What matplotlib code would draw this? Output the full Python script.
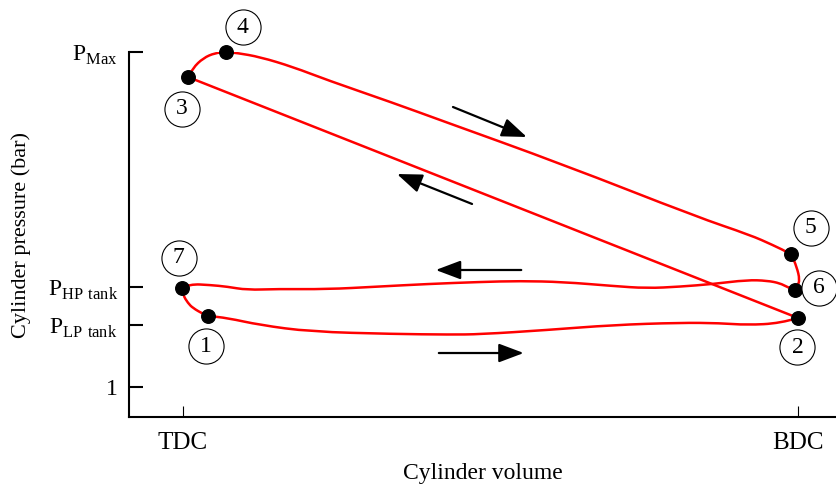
import numpy as np
import matplotlib
matplotlib.use("Agg")
import matplotlib.pyplot as plt
from matplotlib.path import Path
from matplotlib.patches import PathPatch

plt.rcParams['font.family'] = ['Liberation Serif', 'DejaVu Serif']
plt.rcParams['mathtext.fontset'] = 'custom'
plt.rcParams['mathtext.rm'] = 'Liberation Serif'

# ------------------------------------------------------------
# DATA (volume: TDC = 0, BDC = 1; pressure in arbitrary units)
# ------------------------------------------------------------
P_LP = 2.0
P_HP = 2.613
P_MAX = 6.403

# 3 -> 4 -> 5 -> 6 : combustion + expansion + blowdown
EXP_V = [0.008, 0.016, 0.033, 0.052, 0.070, 0.088, 0.125, 0.179, 0.234,
         0.342, 0.418, 0.618, 0.836, 0.922, 0.959, 0.989, 0.998, 1.003,
         0.999, 0.995]
EXP_P = [6.000, 6.145, 6.306, 6.387, 6.403, 6.387, 6.323, 6.161, 5.952,
         5.581, 5.306, 4.590, 3.742, 3.452, 3.290, 3.145, 2.935, 2.726,
         2.630, 2.565]

# 6 -> 7 : exhaust to HP tank
EXH_V = [0.995, 0.982, 0.971, 0.950, 0.917, 0.862, 0.808, 0.754, 0.699,
         0.618, 0.548, 0.483, 0.397, 0.315, 0.234, 0.153, 0.104, 0.072,
         0.044, 0.011, -0.002]
EXH_P = [2.565, 2.613, 2.673, 2.715, 2.726, 2.661, 2.618, 2.592, 2.629,
         2.694, 2.710, 2.694, 2.661, 2.618, 2.576, 2.581, 2.565, 2.618,
         2.645, 2.661, 2.597]

# 7 -> 1 -> 2 : re-expansion + intake from LP tank
INT_V = [-0.002, 0.000, 0.008, 0.016, 0.033, 0.041, 0.072, 0.125, 0.207,
         0.342, 0.434, 0.483, 0.592, 0.699, 0.808, 0.873, 0.917, 0.971,
         1.000]
INT_P = [2.597, 2.484, 2.355, 2.274, 2.177, 2.145, 2.113, 2.000, 1.892,
         1.855, 1.845, 1.850, 1.919, 2.000, 2.037, 2.030, 2.000, 2.027,
         2.113]

# state points 1..7
STATE_V = [0.041, 1.000, 0.008, 0.070, 0.989, 0.995, -0.002]
STATE_P = [2.145, 2.113, 6.000, 6.403, 3.145, 2.565, 2.597]
STATE_NAMES = ['1', '2', '3', '4', '5', '6', '7']

# ------------------------------------------------------------
# LAYOUT
# ------------------------------------------------------------
LABEL_V = [0.037, 0.999, -0.002, 0.097, 1.021, 1.034, -0.007]
LABEL_P = [1.661, 1.645, 5.484, 6.800, 3.565, 2.597, 3.081]

ARROWS = [  # (v_start, p_start, v_end, p_end)
    (0.439, 5.516, 0.559, 5.032),
    (0.470, 3.952, 0.348, 4.435),
    (0.550, 2.887, 0.411, 2.887),
    (0.416, 1.548, 0.554, 1.548),
]

RED = '#ff0000'


def smooth_line(ax, v, p, **kw):
    # quadratic bezier chain: traced points act as control points
    pts = np.column_stack([v, p])
    verts = [pts[0]]
    codes = [Path.MOVETO]
    for i in range(1, len(pts) - 1):
        end = pts[i + 1] if i == len(pts) - 2 else (pts[i] + pts[i + 1]) / 2
        verts += [pts[i], end]
        codes += [Path.CURVE3, Path.CURVE3]
    patch = PathPatch(Path(verts, codes), fill=False, **kw)
    ax.add_patch(patch)


fig = plt.figure(figsize=(8.36, 4.86), dpi=100)
ax = fig.add_axes([129 / 836, 69 / 486, 707 / 836, 365 / 486])

style = dict(edgecolor=RED, lw=1.8, capstyle='round', joinstyle='round',
             zorder=2)
smooth_line(ax, EXP_V, EXP_P, **style)
smooth_line(ax, EXH_V, EXH_P, **style)
smooth_line(ax, INT_V, INT_P, **style)
# 2 -> 3 : compression
ax.plot([STATE_V[1], STATE_V[2]], [STATE_P[1], STATE_P[2]], color=RED,
        lw=1.8, solid_capstyle='round', zorder=2)

ax.scatter(STATE_V, STATE_P, s=95, color='black', zorder=3, clip_on=False)

ax.scatter(LABEL_V, LABEL_P, s=640, facecolor='white', edgecolor='black',
           linewidth=0.8, zorder=4, clip_on=False)
for v, p, name in zip(LABEL_V, LABEL_P, STATE_NAMES):
    ax.text(v, p, name, ha='center', va='center', fontsize=17, zorder=5,
            clip_on=False)

for v0, p0, v1, p1 in ARROWS:
    ax.annotate('', xy=(v1, p1), xytext=(v0, p0),
                arrowprops=dict(arrowstyle='-|>,head_length=0.85,head_width=0.32',
                                color='black', lw=1.6, mutation_scale=18,
                                shrinkA=0, shrinkB=0))

ax.set_xlim(-0.0878, 1.0618)
ax.set_ylim(0.516, P_MAX)

ax.set_xticks([0, 1])
ax.set_xticklabels(['TDC', 'BDC'])
ax.set_yticks([1, P_LP, P_HP, P_MAX])
ax.set_yticklabels(['1', r'P$_{\mathregular{LP\ tank}}$',
                    r'P$_{\mathregular{HP\ tank}}$', r'P$_{\mathregular{Max}}$'])

ax.tick_params(axis='y', direction='in', length=10, width=1.5, pad=8,
               labelsize=17)
ax.tick_params(axis='x', direction='in', length=8, width=0.8, pad=11,
               labelsize=18)

for side in ['top', 'right']:
    ax.spines[side].set_visible(False)
for side in ['left', 'bottom']:
    ax.spines[side].set_linewidth(1.5)

ax.set_xlabel('Cylinder volume', fontsize=17, labelpad=6)
ax.set_ylabel('Cylinder pressure (bar)', fontsize=16, labelpad=12)

fig.savefig('out.png', dpi=100, facecolor='white')
